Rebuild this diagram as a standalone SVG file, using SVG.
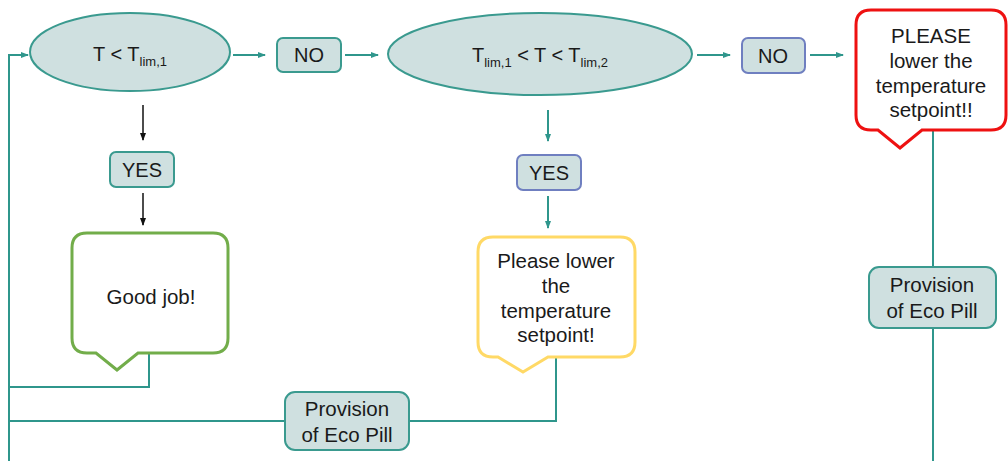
<svg xmlns="http://www.w3.org/2000/svg" width="1008" height="461" viewBox="0 0 1008 461">
<defs>
<marker id="at" markerWidth="8" markerHeight="8" refX="7" refY="4" orient="auto" markerUnits="userSpaceOnUse"><path d="M0,1 L8,4 L0,7 Z" fill="#2f968c"/></marker>
<marker id="ab" markerWidth="8" markerHeight="8" refX="7" refY="4" orient="auto" markerUnits="userSpaceOnUse"><path d="M0,1 L8,4 L0,7 Z" fill="#111"/></marker>
<style>
.t{font-family:"Liberation Sans",Arial,sans-serif;fill:#1a1a1a;text-anchor:middle}
.f20{font-size:20px}
.f19{font-size:20.5px}
.sub{font-size:13px}
.node{fill:#cfe0e0;stroke:#3a9a8f;stroke-width:2}
.nodeb{fill:#cfe0e0;stroke:#6f7fc0;stroke-width:2}
.con{fill:none;stroke:#2f968c;stroke-width:2}
.conb{fill:none;stroke:#111;stroke-width:1.5}
</style>
</defs>
<rect width="1008" height="461" fill="#fff"/>
<g id="connectors">
<path class="con" d="M9,461 V55 H28" marker-end="url(#at)"/>
<path class="con" d="M233,55 H265" marker-end="url(#at)"/>
<path class="con" d="M345,55 H378" marker-end="url(#at)"/>
<path class="con" d="M697,55 H730" marker-end="url(#at)"/>
<path class="con" d="M810,55 H843" marker-end="url(#at)"/>
<path class="conb" d="M143,105 V140" marker-end="url(#ab)"/>
<path class="conb" d="M143,193 V225" marker-end="url(#ab)"/>
<path class="con" d="M548,110 V141" marker-end="url(#at)"/>
<path class="con" d="M548,196 V228" marker-end="url(#at)"/>
<path class="con" d="M149,353 V387 H9"/>
<path class="con" d="M9,421 H285 M409,421 H556 V357"/>
<path class="con" d="M933,130 V268 M933,328 V461"/>
</g>
<g id="cond1">
<ellipse class="node" cx="130" cy="52" rx="100" ry="39"/>
<text class="t f20" x="130" y="61">T &lt; T<tspan class="sub" dy="5">lim,1</tspan></text>
</g>
<g id="no1">
<rect class="node" x="277" y="38" width="64" height="34" rx="6"/>
<text class="t f20" x="309" y="62">NO</text>
</g>
<g id="cond2">
<ellipse class="node" cx="540" cy="54" rx="152" ry="41"/>
<text class="t f20" x="540" y="62">T<tspan class="sub" dy="5">lim,1</tspan><tspan dy="-5"> &lt; T &lt; T</tspan><tspan class="sub" dy="5">lim,2</tspan></text>
</g>
<g id="no2">
<rect class="nodeb" x="742" y="38" width="63" height="35" rx="6"/>
<text class="t f20" x="773" y="63">NO</text>
</g>
<g id="warn-red">
<path d="M871,10 H991 Q1006,10 1006,25 V115 Q1006,130 991,130 H922 L900,148 L878,130 H871 Q856,130 856,115 V25 Q856,10 871,10 Z" fill="#fff" stroke="#ee1111" stroke-width="3"/>
<text class="t f19" x="931" y="43">PLEASE</text>
<text class="t f19" x="931" y="68">lower the</text>
<text class="t f19" x="931" y="93">temperature</text>
<text class="t f19" x="931" y="117">setpoint!!</text>
</g>
<g id="yes1">
<rect class="node" x="110" y="152" width="64" height="35" rx="6"/>
<text class="t f20" x="142" y="177">YES</text>
</g>
<g id="goodjob">
<path d="M87,233 H213 Q228,233 228,248 V338 Q228,353 213,353 H138 L117,370 L96,353 H87 Q72,353 72,338 V248 Q72,233 87,233 Z" fill="#fff" stroke="#72ad4a" stroke-width="3"/>
<text class="t f19" x="151" y="304">Good job!</text>
</g>
<g id="yes2">
<rect class="nodeb" x="517" y="155" width="64" height="35" rx="6"/>
<text class="t f20" x="549" y="180">YES</text>
</g>
<g id="warn-yellow">
<path d="M493,237 H620 Q635,237 635,252 V342 Q635,357 620,357 H548 L523,372 L498,357 H493 Q478,357 478,342 V252 Q478,237 493,237 Z" fill="#fff" stroke="#ffd966" stroke-width="3"/>
<text class="t f19" x="556" y="268">Please lower</text>
<text class="t f19" x="556" y="293">the</text>
<text class="t f19" x="556" y="318">temperature</text>
<text class="t f19" x="556" y="342">setpoint!</text>
</g>
<g id="eco-bottom">
<rect class="node" x="285" y="392" width="124" height="58" rx="10"/>
<text class="t f19" x="347" y="416">Provision</text>
<text class="t f19" x="347" y="442">of Eco Pill</text>
</g>
<g id="eco-right">
<rect class="node" x="869" y="267" width="127" height="61" rx="10"/>
<text class="t f19" x="932" y="292">Provision</text>
<text class="t f19" x="932" y="318">of Eco Pill</text>
</g>
</svg>
